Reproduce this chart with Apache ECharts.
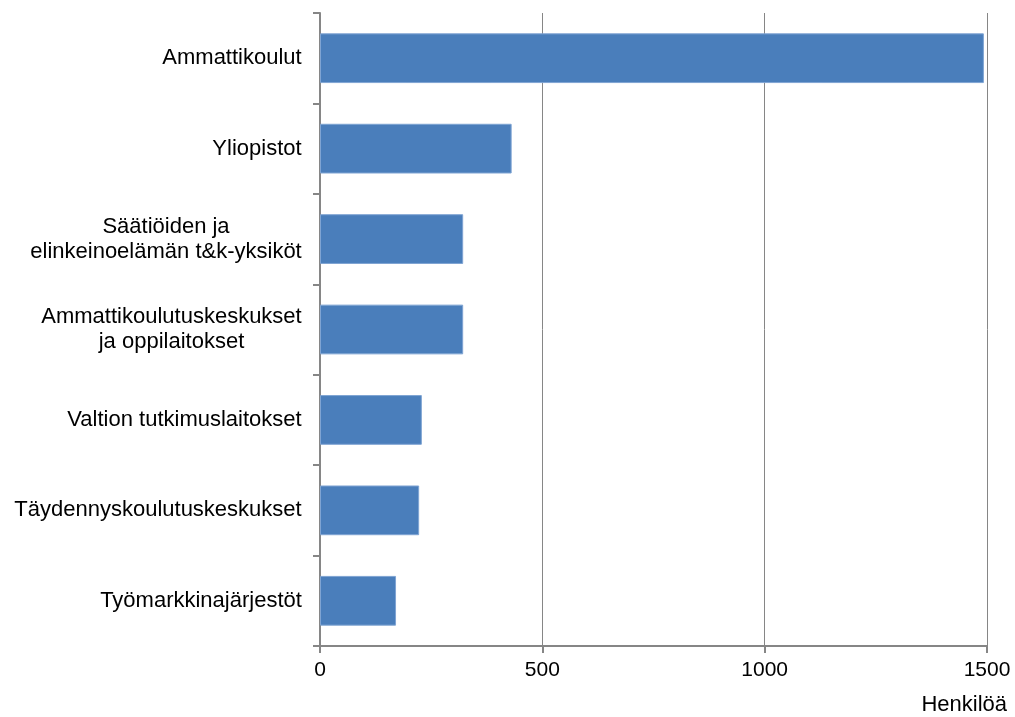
<!DOCTYPE html>
<html><head><meta charset="utf-8">
<script src="https://cdn.jsdelivr.net/npm/echarts@6/dist/echarts.min.js"></script>
<style>html,body{margin:0;padding:0;background:#fff}#c{width:1015px;height:717px}</style>
</head><body><div id="c"></div>
<script>
const categories = ["Ammattikoulut","Yliopistot","Säätiöiden ja\nelinkeinoelämän t&k-yksiköt","Ammattikoulutuskeskukset\nja oppilaitokset","Valtion tutkimuslaitokset","Täydennyskoulutuskeskukset","Työmarkkinajärjestöt"];
const values = [1493, 431, 322, 322, 229, 223, 171];
const xTicks = [0, 500, 1000, 1500];
const FONT = '"Liberation Sans", Arial, sans-serif';
const CAT_SIZE = 22;
const ctx = document.createElement('canvas').getContext('2d');
ctx.font = CAT_SIZE + 'px ' + FONT;
const rich = {};
categories.forEach((c, i) => {
  const w = Math.max(...c.split('\n').map(l => ctx.measureText(l).width));
  rich['r' + i] = {width: Math.ceil(w), align: 'center', fontSize: CAT_SIZE, lineHeight: 25, color: '#000', fontFamily: FONT};
});
const chart = echarts.init(document.getElementById('c'));
chart.setOption({
  animation:false,
  textStyle:{fontFamily:FONT},
  grid:{left:320,right:28,top:13,bottom:71,containLabel:false},
  xAxis:{type:'value',min:0,max:1500,interval:500,
    name:'Henkilöä',nameLocation:'end',nameGap:0,
    nameTextStyle:{color:'#000',fontSize:22,align:'right',verticalAlign:'top',padding:[48,-20,0,0]},
    axisLine:{show:true,lineStyle:{color:'#868686',width:2}},
    axisTick:{show:true,length:7,lineStyle:{color:'#868686',width:2}},
    axisLabel:{color:'#000',fontSize:21,margin:14,formatter:v=>xTicks.includes(v)?String(v):''},
    splitLine:{show:true,lineStyle:{color:'#868686',width:1}}},
  yAxis:{type:'category',inverse:true,data:categories,
    axisLine:{show:true,lineStyle:{color:'#868686',width:2}},
    axisTick:{show:true,length:7,lineStyle:{color:'#868686',width:2}},
    axisLabel:{margin:18,align:'right',rich:rich,
      formatter:(v,i)=>v.split('\n').map(l=>'{r'+i+'|'+l+'}').join('\n')}},
  series:[{type:'bar',data:values,barCategoryGap:'45%',
    itemStyle:{color:'#4a7ebb',borderColor:'#7fa4d3',borderWidth:1}}]
});
</script></body></html>
